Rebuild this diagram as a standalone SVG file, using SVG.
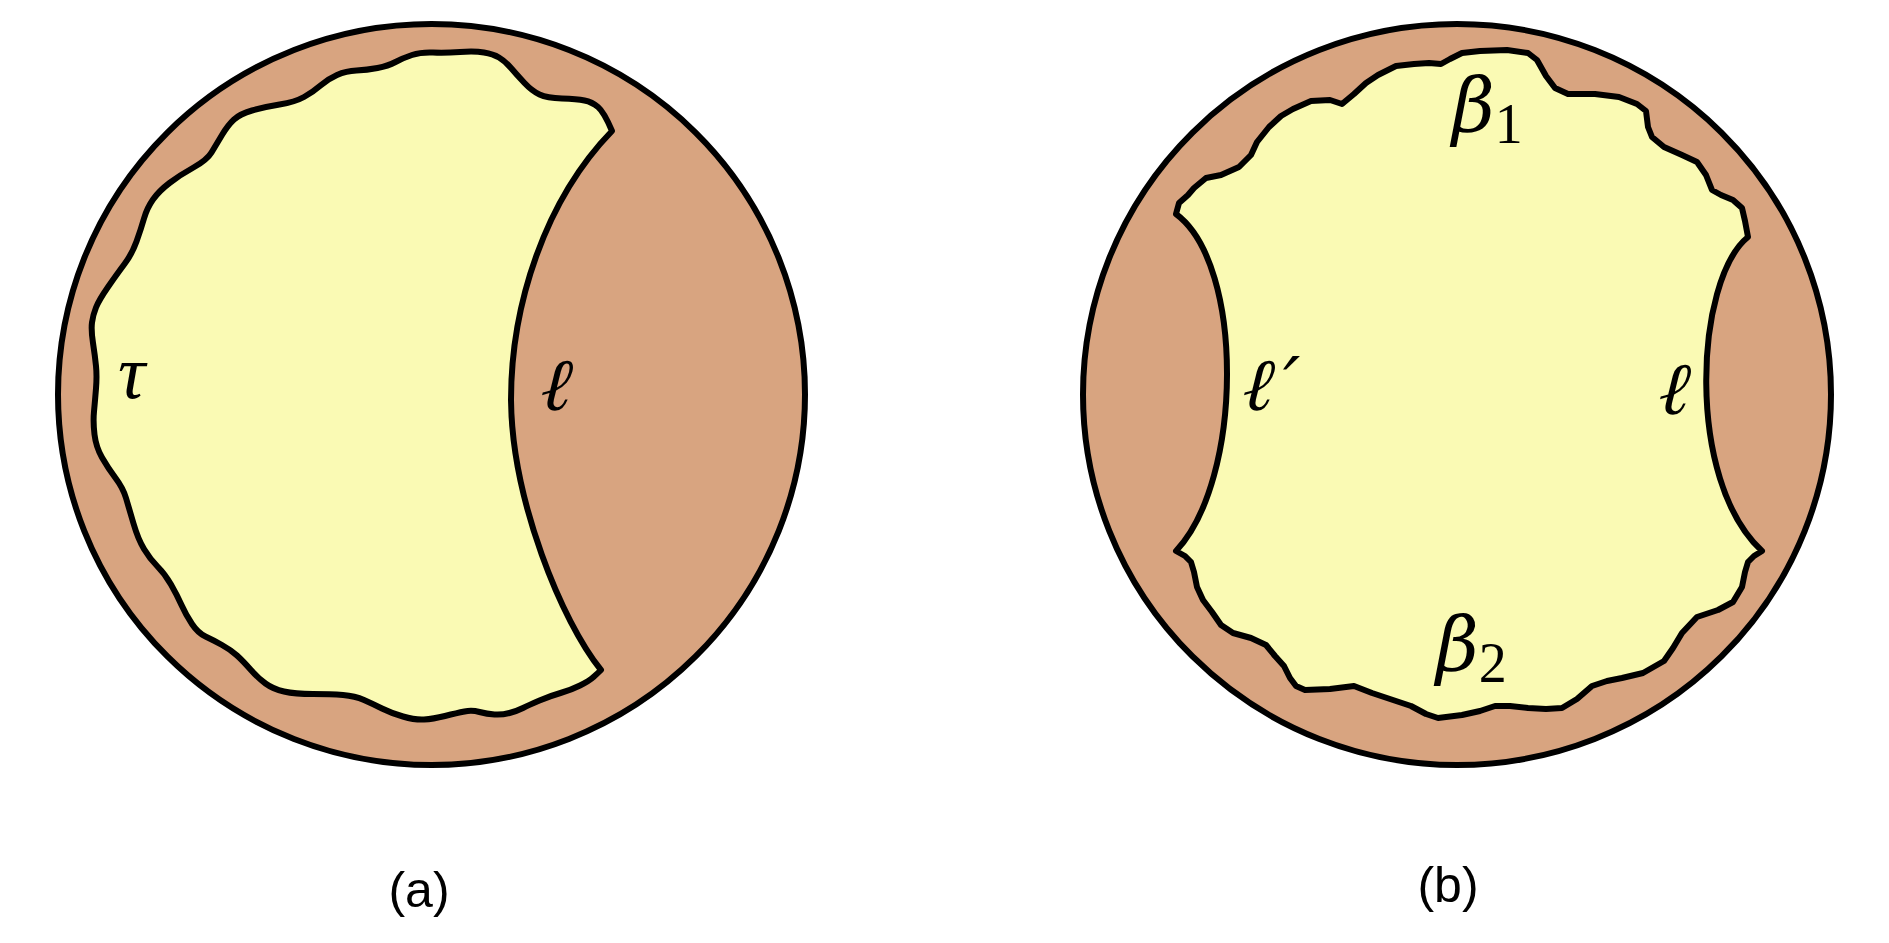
<svg xmlns="http://www.w3.org/2000/svg" width="1889" height="943" viewBox="0 0 1889 943">
<style>
.disk{fill:#D8A480;stroke:#000;stroke-width:6}
.region{fill:#FAFAB4;stroke:#000;stroke-width:6;stroke-linejoin:round;stroke-linecap:round}
.greek{font-family:"Liberation Serif","DejaVu Serif",serif;font-style:italic;fill:#000}
.beta{font-family:"DejaVu Serif","Liberation Serif",serif;font-style:italic;fill:#000}
.sub{font-family:"Liberation Serif","DejaVu Serif",serif;font-style:normal;fill:#000}
.ell{font-family:"DejaVu Serif","Liberation Serif",serif;font-size:74px;fill:#000}
.cap{font-family:"Liberation Sans",Arial,sans-serif;font-size:50px;fill:#000;text-anchor:middle}
</style>
<rect width="1889" height="943" fill="#fff"/>
<g id="panel-a">
<ellipse class="disk" cx="431.5" cy="394.5" rx="373.5" ry="370.5"/>
<path class="region" d="M612 131 Q604 112 598 107 Q592 102 584.5 100.5 Q577 99 562 98.5 Q547 98 539.5 94.5 Q532 91 524.5 83 Q517 75 511 68 Q505 61 499 57.5 Q493 54 484 52.5 Q475 51 460 52 Q445 53 433 52.5 Q421 52 412 55 Q403 58 395.5 62 Q388 66 377.5 68 Q367 70 356.5 70.5 Q346 71 337 75 Q328 79 320.5 85.5 Q313 92 304 97 Q295 102 279.5 104.5 Q264 107 252 110.5 Q240 114 234 119.5 Q228 125 222 135 Q216 145 211.5 152.5 Q207 160 193.5 167.5 Q180 175 169.5 183 Q159 191 153 199.5 Q147 208 144 218.5 Q141 229 136.5 241.5 Q132 254 124.5 264 Q117 274 108 287 Q99 300 96 307.5 Q93 315 92 322.5 Q91 330 93 343 Q95 356 96 366 Q97 376 96 388.5 Q95 401 94 411.5 Q93 422 94.5 434.5 Q96 447 102 457.5 Q108 468 115.5 478 Q123 488 126 498 Q129 508 133.5 523.5 Q138 539 144 549 Q150 559 157.5 566.5 Q165 574 171 584.5 Q177 595 181.5 605 Q186 615 192 624 Q198 633 205.5 636.5 Q213 640 222 645 Q231 650 237 655.5 Q243 661 250.5 669.5 Q258 678 265.5 683.5 Q273 689 284 691.5 Q295 694 313 694 Q331 694 343 695 Q355 696 364 700 Q373 704 382 708.5 Q391 713 403 716.5 Q415 720 424 719.5 Q433 719 445 716 Q457 713 464.5 711.5 Q472 710 479.5 712 Q487 714 494.5 714.5 Q502 715 509.5 713 Q517 711 523 708 Q529 705 539.5 700.5 Q550 696 560.5 693 Q571 690 580 685.5 Q589 681 593.5 677 Q598 673 601 670 C562 622 512 500 511 400 C511 305 545 200 612 131 Z"/>
<text class="greek" x="118" y="398" font-size="76">τ</text>
<text class="ell" transform="translate(534 410) skewX(-14)">ℓ</text>
</g>
<g id="panel-b">
<ellipse class="disk" cx="1457" cy="394.5" rx="374" ry="370.5"/>
<path class="region" d="M1176 214 L1179 203 L1188 195 L1194 188 L1206 178 L1221 175 L1239 167 L1251 155 L1257 142 L1269 127 L1281 116 L1293 109 L1311 101 L1330 100 L1342 104 L1354 94 L1366 83 L1378 75 L1396 66 L1414 64 L1429 63 L1441 64 L1450 59 L1462 53 L1480 51 L1507 50 L1528 53 L1537 60 L1546 76 L1555 88 L1568 94 L1595 94 L1619 97 L1637 104 L1646 111 L1648 127 L1652 137 L1664 147 L1682 155 L1697 162 L1706 175 L1712 190 L1721 195 L1733 200 L1742 208 L1745 221 L1748 237 C1695 280 1685 480 1762 551 L1754 556 L1748 562 L1745 572 L1742 587 L1733 602 L1718 610 L1697 617 L1682 633 L1673 648 L1664 661 L1643 673 L1622 678 L1607 681 L1592 686 L1577 699 L1562 708 L1546 709 L1528 708 L1510 706 L1495 706 L1480 711 L1462 715 L1438 718 L1426 714 L1411 706 L1390 699 L1372 693 L1354 686 L1330 689 L1305 690 L1296 686 L1290 678 L1284 666 L1275 656 L1266 645 L1251 638 L1233 633 L1221 625 L1212 612 L1203 600 L1197 587 L1194 572 L1191 562 L1185 556 L1176 551 C1243 480 1245 265 1176 214 Z"/>
<text class="beta" x="1452" y="131" font-size="74">β<tspan class="sub" font-size="56" dy="12">1</tspan></text>
<text class="beta" x="1436" y="670" font-size="74">β<tspan class="sub" font-size="56" dy="12">2</tspan></text>
<text class="ell" transform="translate(1236 410) skewX(-14)">ℓ′</text>
<text class="ell" transform="translate(1652 414) skewX(-14)">ℓ</text>
</g>
<g id="captions">
<text class="cap" x="419" y="907">(a)</text>
<text class="cap" x="1448" y="902">(b)</text>
</g>
<g id="connectors"/>
</svg>
